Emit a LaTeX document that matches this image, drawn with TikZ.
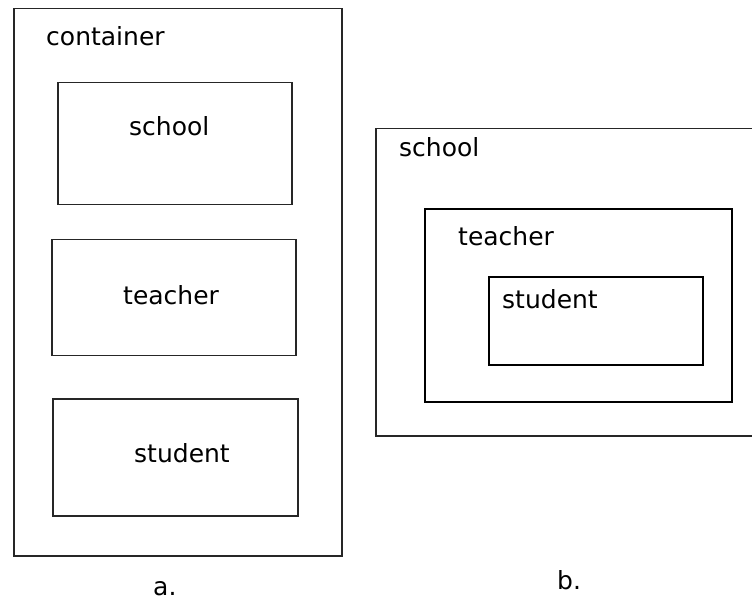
\documentclass[tikz,border=0pt]{standalone}
\usepackage{fontspec}
\setmainfont{DejaVu Sans}
\begin{document}
\begin{tikzpicture}[x=1pt,y=-1pt,
  box/.style={draw=black!85,line width=1.5pt},
  thickbox/.style={draw=black,line width=2pt},
  lbl/.style={font=\fontsize{25}{29}\selectfont,inner sep=0pt,anchor=base west}]
\useasboundingbox (0,0) rectangle (752,601);
% a.
\node[box,minimum width=328,minimum height=547,anchor=north west] (cont) at (13,8) {};
\node[lbl] (contl) at (46,46) {container};
\node[box,minimum width=234,minimum height=122,anchor=north west] (schoola) at (57,82) {};
\node[lbl] (schoolal) at (129,136) {school};
\node[box,minimum width=244,minimum height=116,anchor=north west] (teachera) at (51,239) {};
\node[lbl] (teacheral) at (123,305) {teacher};
\node[box,minimum width=245,minimum height=117,anchor=north west] (studenta) at (52,398) {};
\node[lbl] (studental) at (134,462) {student};
\node[lbl] (alabel) at (153,595) {a.};
% b.
\node[box,minimum width=382,minimum height=307,anchor=north west] (schoolb) at (375,128) {};
\node[lbl] (schoolbl) at (399,157) {school};
\node[thickbox,minimum width=307,minimum height=193,anchor=north west] (teacherb) at (424,208) {};
\node[lbl] (teacherbl) at (458,246) {teacher};
\node[thickbox,minimum width=214,minimum height=88,anchor=north west] (studentb) at (488,276) {};
\node[lbl] (studentbl) at (502,309) {student};
\node[lbl] (blabel) at (557,589) {b.};
\end{tikzpicture}
\end{document}
